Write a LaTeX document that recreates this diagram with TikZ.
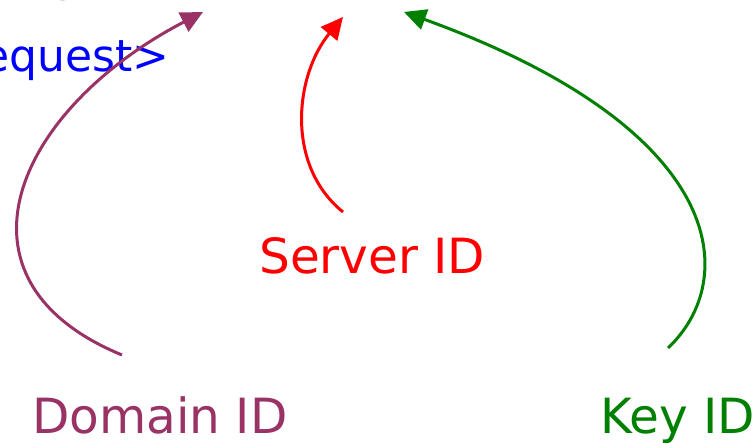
\documentclass[tikz,border=0pt]{standalone}
\usepackage{fontspec}
\setmainfont{DejaVu Sans}
\usetikzlibrary{arrows.meta}
\definecolor{domaincol}{HTML}{993366}
\definecolor{servercol}{HTML}{FF0000}
\definecolor{keycol}{HTML}{008000}
\definecolor{reqcol}{HTML}{0000FF}
\tikzset{
  lbl/.style={inner sep=0pt, anchor=base west, font=\fontsize{48.5}{52}\selectfont},
  reqtext/.style={inner sep=0pt, anchor=base west, text=reqcol, font=\fontsize{44}{48}\selectfont},
  link/.style={line width=3pt, -{Triangle[length=22pt,width=21pt]}}
}
\begin{document}
\begin{tikzpicture}[x=1pt,y=-1pt]
\useasboundingbox (0,0) rectangle (755,443);
% request line at the top
\node[reqtext] (top) at (57,-8) {y};
\node[reqtext] (req) at (-35,72) {request>};
% labels
\node[lbl, text=domaincol] (dom) at (32,433) {Domain ID};
\node[lbl, text=servercol] (srv) at (259,274) {Server ID};
\node[lbl, text=keycol] (key) at (600,433) {Key ID};
% arrow targets
\coordinate (dtip) at (203,12);
\coordinate (stip) at (343,17);
\coordinate (ktip) at (404,12);
\coordinate (dstart) at (122,355);
\coordinate (sstart) at (343,212);
\coordinate (kstart) at (668,348);
% arrows
\draw[link, domaincol] (dstart) .. controls (-60,280) and (15,110) .. (dtip);
\draw[link, servercol] (sstart) .. controls (285,165) and (295,75) .. (stip);
\draw[link, keycol] (kstart) .. controls (740,280) and (730,130) .. (ktip);
\end{tikzpicture}
\end{document}
